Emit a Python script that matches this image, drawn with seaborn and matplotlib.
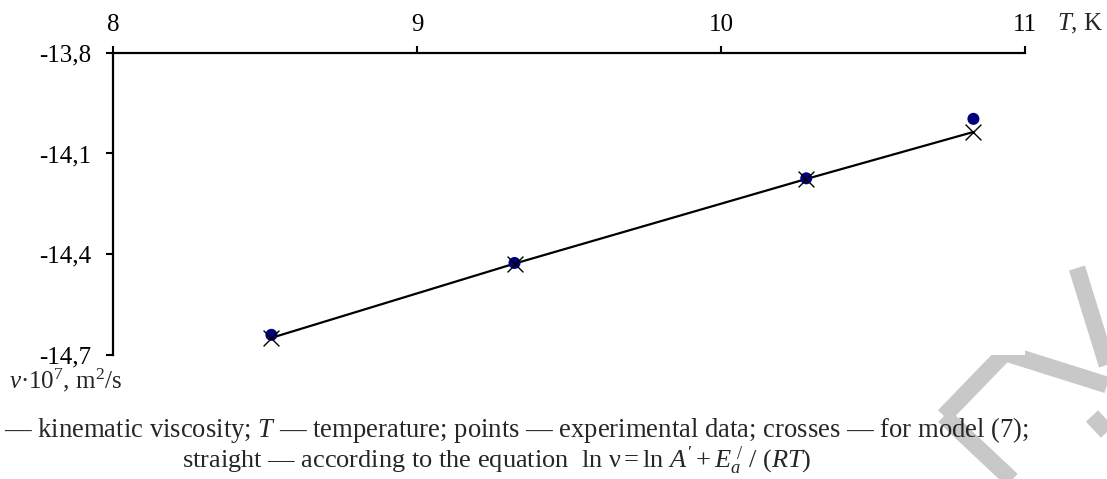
import numpy as np
import pandas as pd
import matplotlib
matplotlib.use("Agg")
import matplotlib.pyplot as plt
import seaborn as sns
from matplotlib.lines import Line2D

# data
temperature = [8.52, 9.32, 10.28, 10.83]
ln_nu_exp = [-14.640, -14.426, -14.174, -13.997]
ln_nu_model = [-14.649, -14.428, -14.176, -14.036]
x_ticks = [8, 9, 10, 11]
y_ticks = [-13.8, -14.1, -14.4, -14.7]

sns.set_theme(style="white")
plt.rcParams["font.family"] = ["Liberation Serif", "DejaVu Serif"]
plt.rcParams["mathtext.fontset"] = "custom"
plt.rcParams["mathtext.rm"] = "Liberation Serif"
plt.rcParams["mathtext.it"] = "Liberation Serif:italic"

df = pd.DataFrame({"T": temperature, "exp": ln_nu_exp, "model": ln_nu_model})

fig = plt.figure(figsize=(11.07, 4.79), dpi=100)
ax = fig.add_axes([0.1024, 0.2589, 0.8236, 0.6311])

sns.lineplot(data=df, x="T", y="model", ax=ax, color="black", linewidth=1.6)
sns.scatterplot(data=df, x="T", y="exp", ax=ax, color="#000080", s=75,
                edgecolor="none", zorder=3, clip_on=False)
sns.scatterplot(data=df, x="T", y="model", ax=ax, color="black", marker="x",
                s=130, linewidth=1.0, zorder=4, clip_on=False)

ax.set_xlim(8, 11)
ax.set_ylim(-14.7, -13.8)
ax.xaxis.tick_top()
ax.set_xticks(x_ticks)
ax.set_xticklabels([str(t) for t in x_ticks])
ax.set_yticks(y_ticks)
ax.set_yticklabels([f"{v:.1f}".replace(".", ",") for v in y_ticks])
ax.set_xlabel("")
ax.set_ylabel("")
ax.tick_params(axis="both", direction="out", length=5, width=1.5, colors="black",
               labelsize=18)
ax.tick_params(axis="x", bottom=False, top=True, pad=7)
ax.tick_params(axis="y", left=True, pad=11)
for side in ["right", "bottom"]:
    ax.spines[side].set_visible(False)
for side in ["left", "top"]:
    ax.spines[side].set_linewidth(1.6)
    ax.spines[side].set_color("black")

fig.text(1057 / 1107, 1 - 24 / 479, r"$T$, K", fontsize=18, va="center", ha="left")
fig.text(9 / 1107, 1 - 380 / 479, r"$\nu$·10$^7$, m$^2$/s", fontsize=18,
         va="center", ha="left")
fig.text(4 / 1107, 1 - 430 / 479,
         r"— kinematic viscosity; $T$ — temperature; points — experimental data; "
         r"crosses — for model (7);", fontsize=19.2, va="center", ha="left")
fig.text(182 / 1107, 1 - 477 / 479,
         r"straight — according to the equation  $\mathrm{ln}\ \mathrm{ν} = \mathrm{ln}\ A' + E_a^{\ /}\ /\ (RT)$",
         fontsize=19, va="bottom", ha="left")

# faint watermark strokes on the right
wm = [((1077, 268), (1107, 365)), ((999, 351), (1107, 385)),
      ((1002, 356), (944, 416)), ((944, 416), (1012, 480)),
      ((1092, 416), (1107, 432))]
for (x0, y0), (x1, y1) in wm:
    fig.add_artist(Line2D([x0 / 1107, x1 / 1107], [1 - y0 / 479, 1 - y1 / 479],
                          transform=fig.transFigure, color="#c8c8c8",
                          linewidth=12, solid_capstyle="butt", zorder=0))

fig.savefig("out.png", dpi=100)
